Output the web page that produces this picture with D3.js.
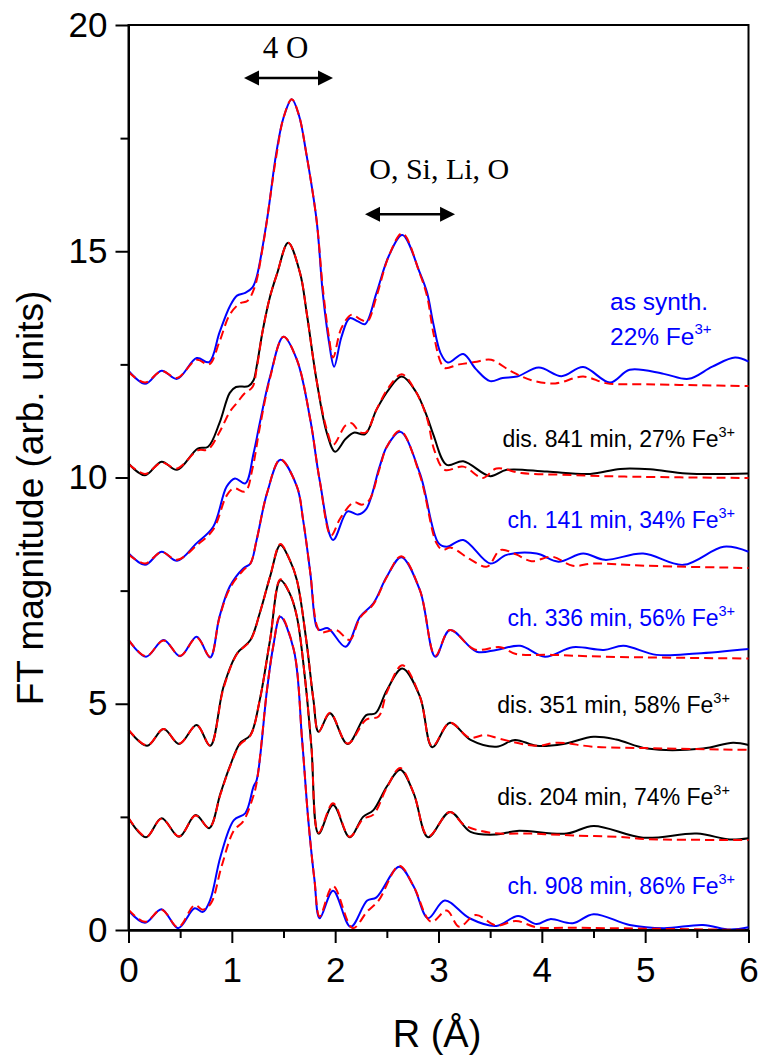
<!DOCTYPE html>
<html><head><meta charset="utf-8">
<script src="https://cdn.jsdelivr.net/npm/d3@7/dist/d3.min.js"></script>
<style>
html,body{margin:0;padding:0;background:#fff;}
text{font-family:"Liberation Sans",Arial,sans-serif;}
.serif{font-family:"Liberation Serif","Times New Roman",serif;}
</style></head>
<body>
<svg id="chart" width="758" height="1057"></svg>
<script>
// ---------------- data ----------------
const xTicks = [0,1,2,3,4,5,6];
const yTicks = [0,5,10,15,20];

// as synth., 22% Fe3+
const synthData = [[0,12.36],[0.16,12.07],[0.32,12.36],[0.47,12.18],[0.66,12.64],[0.78,12.55],[0.88,13.2],[0.98,13.78],[1.05,14.02],[1.13,14.08],[1.2,14.2],[1.24,14.43],[1.34,15.69],[1.43,17.17],[1.5,17.95],[1.58,18.36],[1.65,18.0],[1.72,17.17],[1.82,15.69],[1.88,14.08],[1.94,13.0],[1.99,12.45],[2.06,13.1],[2.14,13.52],[2.22,13.45],[2.29,13.39],[2.4,14.08],[2.52,14.9],[2.65,15.36],[2.82,14.52],[2.89,14.08],[2.95,13.4],[3.02,12.75],[3.09,12.54],[3.24,12.73],[3.36,12.4],[3.5,12.13],[3.62,12.2],[3.76,12.23],[3.97,12.43],[4.19,12.24],[4.4,12.44],[4.66,12.1],[4.85,12.38],[5.18,12.29],[5.42,12.18],[5.65,12.45],[5.87,12.65],[6.0,12.56]];
const synthFit = [[0,12.33],[0.16,12.1],[0.32,12.35],[0.47,12.2],[0.66,12.6],[0.78,12.5],[0.88,13.0],[0.98,13.6],[1.08,13.85],[1.15,13.9],[1.22,14.2],[1.3,15.1],[1.43,17.1],[1.5,17.95],[1.58,18.36],[1.65,18.0],[1.72,17.17],[1.82,15.69],[1.88,14.2],[1.94,13.1],[1.98,12.65],[2.06,13.3],[2.16,13.6],[2.24,13.5],[2.31,13.45],[2.4,14.0],[2.52,14.9],[2.65,15.4],[2.82,14.5],[2.89,14.0],[2.95,13.2],[3.02,12.55],[3.06,12.42],[3.2,12.5],[3.35,12.55],[3.51,12.6],[3.7,12.35],[3.9,12.15],[4.13,12.08],[4.4,12.23],[4.63,12.08],[5.0,12.06],[5.5,12.04],[6.0,12.02]];

// dis. 841 min, 27% Fe3+
const dis841Data = [[0,10.31],[0.16,10.05],[0.32,10.35],[0.47,10.17],[0.67,10.64],[0.77,10.68],[0.88,11.2],[0.98,11.87],[1.04,12.0],[1.16,12.02],[1.21,12.15],[1.24,12.45],[1.3,13.26],[1.37,14.0],[1.44,14.52],[1.545,15.19],[1.66,14.52],[1.725,13.63],[1.82,12.15],[1.92,10.98],[2.0,10.57],[2.1,10.85],[2.18,10.99],[2.29,10.96],[2.4,11.5],[2.52,11.95],[2.645,12.23],[2.78,11.9],[2.89,11.34],[2.95,10.95],[3.08,10.28],[3.24,10.36],[3.5,10.03],[3.66,10.17],[4.05,10.13],[4.47,10.08],[4.76,10.19],[5.05,10.18],[5.4,10.09],[6.0,10.09]];
const dis841Fit = [[0,10.3],[0.16,10.08],[0.32,10.33],[0.47,10.2],[0.67,10.6],[0.77,10.62],[0.88,11.0],[0.98,11.45],[1.05,11.65],[1.12,11.85],[1.2,12.0],[1.24,12.4],[1.3,13.26],[1.37,14.0],[1.44,14.52],[1.545,15.19],[1.66,14.52],[1.725,13.63],[1.82,12.15],[1.92,11.05],[1.98,10.72],[2.1,11.15],[2.16,11.2],[2.24,11.0],[2.3,11.0],[2.4,11.5],[2.52,12.0],[2.645,12.28],[2.78,11.9],[2.89,11.3],[2.96,10.6],[3.06,10.17],[3.24,10.24],[3.43,9.99],[3.56,10.2],[3.8,10.1],[4.2,10.06],[4.8,10.02],[6.0,9.99]];

// ch. 141 min, 34% Fe3+
const ch141Data = [[0,8.33],[0.16,8.07],[0.32,8.36],[0.47,8.16],[0.66,8.55],[0.82,8.91],[0.95,9.8],[1.03,9.98],[1.13,9.87],[1.21,10.53],[1.27,11.2],[1.37,12.23],[1.5,13.11],[1.63,12.6],[1.76,11.27],[1.85,9.94],[1.98,8.62],[2.12,9.25],[2.22,9.18],[2.3,9.3],[2.43,10.24],[2.5,10.68],[2.63,11.01],[2.82,10.09],[3.0,8.55],[3.08,8.47],[3.24,8.62],[3.5,8.1],[3.66,8.29],[3.95,8.32],[4.16,8.14],[4.4,8.32],[4.61,8.18],[4.98,8.32],[5.37,8.07],[5.76,8.47],[6.0,8.36]];
const ch141Fit = [[0,8.3],[0.16,8.1],[0.32,8.35],[0.47,8.18],[0.66,8.5],[0.82,8.85],[0.95,9.6],[1.02,9.76],[1.13,9.69],[1.2,10.2],[1.27,11.1],[1.37,12.2],[1.5,13.11],[1.63,12.6],[1.76,11.27],[1.85,9.94],[1.96,8.72],[2.05,9.1],[2.18,9.45],[2.26,9.4],[2.33,9.5],[2.43,10.2],[2.5,10.68],[2.63,11.03],[2.82,10.05],[2.98,8.55],[3.04,8.4],[3.12,8.45],[3.3,8.2],[3.47,8.03],[3.6,8.4],[3.75,8.3],[3.9,8.15],[4.1,8.25],[4.3,8.05],[4.5,8.1],[5.0,8.05],[6.0,8.0]];

// ch. 336 min, 56% Fe3+
const ch336Data = [[0,6.41],[0.17,6.04],[0.34,6.41],[0.5,6.05],[0.66,6.48],[0.79,6.02],[0.88,6.92],[0.98,7.59],[1.11,7.99],[1.18,8.1],[1.24,8.62],[1.34,9.65],[1.47,10.39],[1.63,9.8],[1.69,9.06],[1.76,7.88],[1.82,6.7],[1.85,6.63],[1.93,6.67],[2.1,6.26],[2.24,6.92],[2.37,7.22],[2.5,7.81],[2.64,8.24],[2.82,7.51],[2.97,6.04],[3.11,6.63],[3.37,6.15],[3.56,6.19],[3.79,6.28],[4.03,6.04],[4.3,6.25],[4.6,6.19],[4.79,6.28],[5.11,6.08],[5.5,6.11],[6.0,6.21]];
const ch336Fit = [[0,6.41],[0.17,6.05],[0.34,6.4],[0.5,6.06],[0.66,6.46],[0.79,6.04],[0.88,6.9],[0.98,7.55],[1.11,7.95],[1.18,8.1],[1.24,8.62],[1.34,9.65],[1.47,10.4],[1.63,9.8],[1.69,9.06],[1.76,7.88],[1.82,6.75],[1.86,6.58],[2.01,6.63],[2.14,6.41],[2.24,6.9],[2.37,7.2],[2.5,7.8],[2.64,8.26],[2.82,7.51],[2.97,6.06],[3.11,6.63],[3.35,6.2],[3.6,6.25],[3.75,6.1],[4.1,6.08],[4.6,6.04],[6.0,6.0]];

// dis. 351 min, 58% Fe3+
const dis351Data = [[0,4.42],[0.18,4.07],[0.34,4.44],[0.49,4.11],[0.66,4.53],[0.79,4.07],[0.92,5.38],[1.05,6.11],[1.18,6.41],[1.27,7.0],[1.37,7.81],[1.47,8.51],[1.56,8.18],[1.63,7.73],[1.72,6.41],[1.79,5.08],[1.84,4.38],[1.95,4.79],[2.12,4.11],[2.3,4.75],[2.39,4.79],[2.5,5.3],[2.65,5.78],[2.82,5.16],[2.94,4.04],[3.11,4.58],[3.31,4.2],[3.56,4.05],[3.74,4.2],[3.95,4.07],[4.21,4.11],[4.5,4.27],[4.72,4.21],[5.02,4.01],[5.56,4.01],[5.85,4.14],[6.0,4.09]];
const dis351Fit = [[0,4.43],[0.18,4.08],[0.34,4.44],[0.49,4.12],[0.66,4.52],[0.79,4.08],[0.92,5.35],[1.05,6.1],[1.18,6.4],[1.27,7.0],[1.37,7.81],[1.47,8.53],[1.56,8.18],[1.63,7.73],[1.72,6.41],[1.79,5.08],[1.84,4.38],[1.95,4.8],[2.12,4.12],[2.3,4.65],[2.42,4.72],[2.5,5.25],[2.65,5.85],[2.82,5.16],[2.94,4.06],[3.11,4.58],[3.3,4.25],[3.45,4.31],[3.6,4.22],[3.95,4.07],[4.15,4.14],[4.5,4.05],[5.0,4.02],[6.0,3.98]];

// dis. 204 min, 74% Fe3+
const dis204Data = [[0,2.47],[0.17,2.05],[0.32,2.47],[0.49,2.06],[0.65,2.54],[0.78,2.25],[0.89,3.02],[0.98,3.61],[1.08,4.13],[1.18,4.31],[1.27,5.08],[1.37,6.41],[1.47,7.73],[1.56,7.44],[1.63,6.92],[1.71,5.52],[1.77,4.05],[1.84,2.13],[1.98,2.76],[2.14,2.05],[2.27,2.5],[2.37,2.65],[2.5,3.17],[2.63,3.54],[2.76,3.02],[2.9,2.05],[3.11,2.61],[3.31,2.17],[3.56,2.11],[3.76,2.19],[4.24,2.13],[4.5,2.3],[4.98,2.04],[5.5,2.13],[5.82,2.0],[6.0,2.03]];
const dis204Fit = [[0,2.48],[0.17,2.06],[0.32,2.46],[0.49,2.07],[0.65,2.53],[0.78,2.26],[0.89,3.0],[0.98,3.6],[1.08,4.1],[1.18,4.3],[1.27,5.08],[1.37,6.41],[1.47,7.75],[1.56,7.44],[1.63,6.92],[1.71,5.52],[1.77,4.05],[1.84,2.15],[1.98,2.8],[2.14,2.06],[2.27,2.45],[2.37,2.55],[2.5,3.15],[2.63,3.58],[2.76,3.02],[2.9,2.07],[3.11,2.61],[3.25,2.32],[3.5,2.15],[3.9,2.13],[4.3,2.09],[4.8,2.05],[5.0,2.01],[6.0,1.99]];

// ch. 908 min, 86% Fe3+
const ch908Data = [[0,0.43],[0.16,0.16],[0.32,0.46],[0.48,0.04],[0.64,0.48],[0.72,0.4],[0.79,0.66],[0.89,1.62],[1.02,2.43],[1.13,2.58],[1.21,3.17],[1.24,3.31],[1.34,5.3],[1.4,6.26],[1.47,6.92],[1.6,6.19],[1.68,4.2],[1.74,2.43],[1.8,1.1],[1.85,0.26],[1.98,0.87],[2.15,0.07],[2.31,0.65],[2.4,0.72],[2.62,1.4],[2.76,0.96],[2.9,0.26],[3.06,0.65],[3.3,0.26],[3.56,0.09],[3.77,0.31],[3.95,0.13],[4.08,0.24],[4.3,0.15],[4.5,0.35],[4.85,0.11],[5.18,0.04],[5.56,0.11],[5.82,0.01],[6.0,0.06]];
const ch908Fit = [[0,0.45],[0.16,0.18],[0.32,0.45],[0.48,0.06],[0.64,0.55],[0.72,0.45],[0.8,0.6],[0.9,1.4],[1.02,2.2],[1.11,2.4],[1.2,2.9],[1.24,3.25],[1.34,5.3],[1.4,6.26],[1.47,6.95],[1.6,6.19],[1.68,4.2],[1.74,2.43],[1.8,1.1],[1.85,0.3],[1.98,0.97],[2.17,0.04],[2.31,0.41],[2.42,0.65],[2.62,1.42],[2.76,0.96],[2.93,0.18],[3.08,0.43],[3.2,0.07],[3.36,0.33],[3.56,0.1],[3.75,0.2],[3.95,0.06],[4.3,0.05],[5.0,0.03],[6.0,0.0]];

const seriesNames = ["as synth.","dis. 841 min","ch. 141 min","ch. 336 min","dis. 351 min","dis. 204 min","ch. 908 min"];
const seriesData = [synthData,dis841Data,ch141Data,ch336Data,dis351Data,dis204Data,ch908Data];
const seriesFit = [synthFit,dis841Fit,ch141Fit,ch336Fit,dis351Fit,dis204Fit,ch908Fit];
const seriesColor = ["#0000ff","#000000","#0000ff","#0000ff","#000000","#000000","#0000ff"];

// labels: text, superscript, anchor R, anchor value, text-anchor
const labelTexts = ["dis. 841 min, 27% Fe","ch. 141 min, 34% Fe","ch. 336 min, 56% Fe","dis. 351 min, 58% Fe","dis. 204 min, 74% Fe","ch. 908 min, 86% Fe"];
const labelColors = ["#000000","#0000ff","#0000ff","#000000","#000000","#0000ff"];
const labelR = [5.87,5.87,5.87,5.82,5.82,5.87];
const labelV = [10.68,8.88,6.71,4.79,2.76,0.80];

// ---------------- chart ----------------
const svg = d3.select("#chart");
const x = d3.scaleLinear().domain([0,6]).range([128.5,748.5]);
const y = d3.scaleLinear().domain([0,20]).range([930,25]);

// frame
svg.append("rect").attr("x",x(0)).attr("y",y(20)).attr("width",x(6)-x(0)).attr("height",y(0)-y(20))
  .attr("fill","none").attr("stroke","#000").attr("stroke-width",2);

const line = d3.line().x(d=>x(d[0])).y(d=>y(d[1])).curve(d3.curveCatmullRom.alpha(0.5));
const g = svg.append("g");
seriesData.forEach((s,i)=>{
  g.append("path").datum(s).attr("d",line).attr("fill","none")
   .attr("stroke",seriesColor[i]).attr("stroke-width",2).attr("stroke-linejoin","round");
});
seriesFit.forEach((s,i)=>{
  g.append("path").datum(s).attr("d",line).attr("fill","none")
   .attr("stroke","#ff0000").attr("stroke-width",2).attr("stroke-dasharray","9,5");
});

// axes
svg.append("g").attr("transform",`translate(0,${y(0)})`)
  .call(d3.axisBottom(x).tickValues(xTicks).tickSize(13).tickSizeOuter(0).tickPadding(14).tickFormat(d3.format("d")));
svg.append("g").attr("transform",`translate(0,${y(0)})`)
  .call(d3.axisBottom(x).tickValues([0.5,1.5,2.5,3.5,4.5,5.5]).tickSize(8).tickSizeOuter(0).tickFormat(""));
svg.append("g").attr("transform",`translate(${x(0)},0)`)
  .call(d3.axisLeft(y).tickValues(yTicks).tickSize(13).tickSizeOuter(0).tickPadding(8).tickFormat(d3.format("d")));
svg.append("g").attr("transform",`translate(${x(0)},0)`)
  .call(d3.axisLeft(y).tickValues([2.5,7.5,12.5,17.5]).tickSize(8).tickSizeOuter(0).tickFormat(""));
svg.selectAll(".domain").attr("stroke","#000").attr("stroke-width",2);
svg.selectAll(".tick line").attr("stroke","#000").attr("stroke-width",2);
svg.selectAll(".tick text").attr("font-size",35).attr("fill","#000")
  .attr("font-family","'Liberation Sans',Arial,sans-serif");

// axis titles
svg.append("text").attr("x",437).attr("y",1047).attr("text-anchor","middle")
  .attr("font-size",38).text("R (Å)");
svg.append("text").attr("transform","translate(43,498) rotate(-90)").attr("text-anchor","middle")
  .attr("font-size",37).text("FT magnitude (arb. units)");

// annotations
function arrow(r1,r2,v){
  const x1=x(r1), x2=x(r2), yy=y(v), L=15, H=7.5;
  svg.append("line").attr("x1",x1+L-2).attr("x2",x2-L+2).attr("y1",yy).attr("y2",yy)
    .attr("stroke","#000").attr("stroke-width",2.5);
  svg.append("path").attr("d",`M${x1},${yy}L${x1+L},${yy-H}L${x1+L},${yy+H}Z`).attr("fill","#000");
  svg.append("path").attr("d",`M${x2},${yy}L${x2-L},${yy-H}L${x2-L},${yy+H}Z`).attr("fill","#000");
}
arrow(1.118,1.979,18.83);
arrow(2.289,3.16,15.82);
svg.append("text").attr("class","serif").attr("x",x(1.52)).attr("y",y(19.27)).attr("text-anchor","middle")
  .attr("font-size",31).text("4 O");
svg.append("text").attr("class","serif").attr("x",x(2.33)).attr("y",y(16.59))
  .attr("font-size",30).text("O, Si, Li, O");

// as synth label
svg.append("text").attr("x",x(4.66)).attr("y",y(13.7)).attr("fill","#0000ff").attr("font-size",24.5).text("as synth.");
const t0 = svg.append("text").attr("x",x(4.66)).attr("y",y(12.93)).attr("fill","#0000ff").attr("font-size",24.5);
t0.append("tspan").text("22% Fe");
t0.append("tspan").attr("dy",-11).attr("font-size",15).text("3+");

labelTexts.forEach((t,i)=>{
  const tx = svg.append("text").attr("x",x(labelR[i])).attr("y",y(labelV[i])).attr("text-anchor","end")
    .attr("fill",labelColors[i]).attr("font-size",23);
  tx.append("tspan").text(t);
  tx.append("tspan").attr("dy",-10).attr("font-size",14.5).text("3+");
});
</script>
</body></html>
